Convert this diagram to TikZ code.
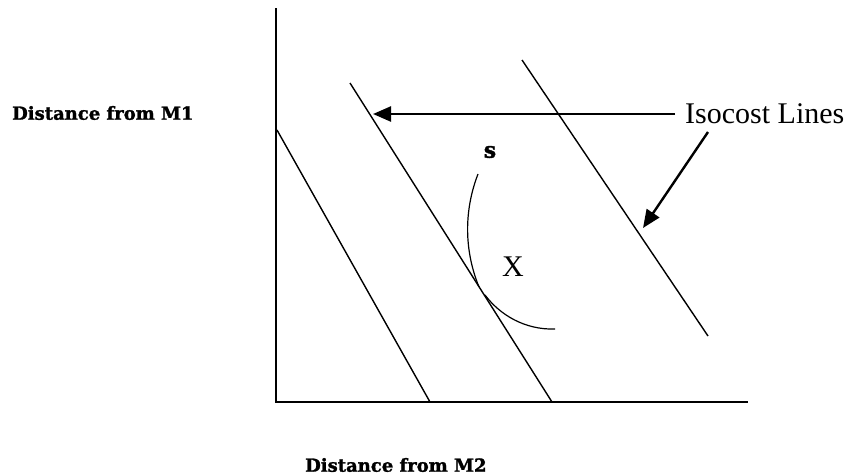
\documentclass[tikz,border=0pt]{standalone}
\usepackage{fontspec}
\usetikzlibrary{arrows.meta}
\newfontfamily\tnr{Liberation Serif}
\newfontfamily\heavy{DejaVu Serif}[BoldFeatures={FakeBold=1.5}]
\tikzset{
  axisline/.style={line width=2pt, black},
  isoline/.style={line width=1.4pt, black},
  pointer/.style={line width=2.4pt, black, -{Triangle[length=18pt,width=15pt]}},
  curve/.style={line width=1.2pt, black},
  axlabel/.style={font=\heavy\bfseries\fontsize{18}{22}\selectfont, inner sep=0pt, anchor=west},
  biglabel/.style={font=\tnr\fontsize{30}{34}\selectfont, inner sep=0pt},
}
\begin{document}
\begin{tikzpicture}[x=1pt,y=-1pt]
\useasboundingbox (0,0) rectangle (850,475);
% axes
\coordinate (ytop) at (276,8);
\coordinate (orig) at (276,402);
\coordinate (xend) at (748,402);
\draw[axisline] (ytop) -- (orig) -- (xend);
% isocost lines
\coordinate (l1a) at (277,130); \coordinate (l1b) at (430,402);
\coordinate (l2a) at (350,83);  \coordinate (l2b) at (552,402);
\coordinate (l3a) at (522,60);  \coordinate (l3b) at (708,336);
\draw[isoline] (l1a) -- (l1b);
\draw[isoline] (l2a) -- (l2b);
\draw[isoline] (l3a) -- (l3b);
% curve s
\coordinate (c1a) at (478,174); \coordinate (c1b) at (479,287);
\coordinate (c2a) at (485,295); \coordinate (c2b) at (555,329);
\draw[curve] (c1a) .. controls (466,205) and (462,245) .. (c1b);
\draw[curve] (c2a) .. controls (500,315) and (525,330) .. (c2b);
% labels
\node[axlabel] (m1) at (12,113) {Distance from M1};
\node[axlabel] (m2) at (305,465) {Distance from M2};
\node[font=\heavy\bfseries\fontsize{22}{26}\selectfont, inner sep=0pt] (s) at (490,152) {s};
\node[biglabel] (X) at (513,267) {X};
\node[biglabel, anchor=west, inner xsep=10pt] (iso) at (675,114) {Isocost Lines};
% pointers
\coordinate (tip1) at (373,114);
\coordinate (a2s) at (708,132);
\coordinate (tip2) at (643,228);
\draw[pointer] (iso.west) -- (tip1);
\draw[pointer] (a2s) -- (tip2);
\end{tikzpicture}
\end{document}
